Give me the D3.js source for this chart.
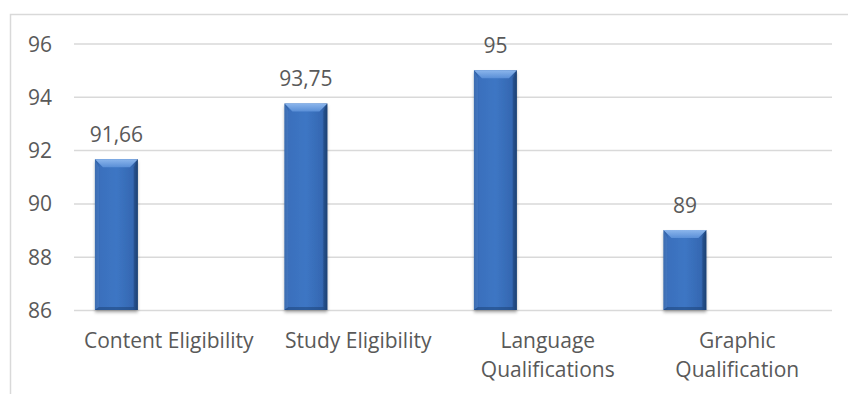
<!DOCTYPE html>
<html>
<head>
<meta charset="utf-8">
<script src="https://cdn.jsdelivr.net/npm/d3@7"></script>
<style>
  html, body { margin: 0; padding: 0; background: #fff; }
  svg { display: block; }
  text { font-family: "Open Sans", "Noto Sans", sans-serif; fill: #595959; }
</style>
</head>
<body>
<svg id="chart" width="848" height="394"></svg>
<script>
// Evaluation scores per criterion
const categories = ["Content Eligibility", "Study Eligibility", "Language Qualifications", "Graphic Qualification"];
const scores = [91.66, 93.75, 95, 89];
const scoreLabels = ["91,66", "93,75", "95", "89"];
const yTicks = [86, 88, 90, 92, 94, 96];

const W = 848, H = 394;
const plot = { left: 74, right: 832, top: 43.5, bottom: 310 };
const fontSize = 21;

const svg = d3.select("#chart");

// gradients for the bevelled bars
const defs = svg.append("defs");
const body = defs.append("linearGradient").attr("id", "barBody")
  .attr("x1", "0").attr("x2", "1").attr("y1", "0").attr("y2", "0");
body.append("stop").attr("offset", "0").attr("stop-color", "#2b5a9c");
body.append("stop").attr("offset", "0.12").attr("stop-color", "#3a70bd");
body.append("stop").attr("offset", "0.5").attr("stop-color", "#3d76c4");
body.append("stop").attr("offset", "0.88").attr("stop-color", "#3568b2");
body.append("stop").attr("offset", "1").attr("stop-color", "#1f4578");

const topFacet = defs.append("linearGradient").attr("id", "barTop")
  .attr("x1", "0").attr("x2", "0").attr("y1", "0").attr("y2", "1");
topFacet.append("stop").attr("offset", "0").attr("stop-color", "#8cb6ec");
topFacet.append("stop").attr("offset", "1").attr("stop-color", "#5a8fd7");

const shadow = defs.append("filter").attr("id", "barShadow")
  .attr("x", "-20%").attr("y", "-5%").attr("width", "140%").attr("height", "115%");
shadow.append("feDropShadow").attr("dx", 0).attr("dy", 2.5)
  .attr("stdDeviation", 1.6).attr("flood-color", "#000").attr("flood-opacity", 0.3);

// chart frame (top and left edges visible)
svg.append("rect")
  .attr("x", 10.5).attr("y", 14.5)
  .attr("width", W + 20).attr("height", H + 20)
  .attr("fill", "none").attr("stroke", "#d9d9d9").attr("stroke-width", 1.5);

const x = d3.scaleBand().domain(categories).range([plot.left, plot.right]).padding(0);
const y = d3.scaleLinear().domain([86, 96]).range([plot.bottom, plot.top]);

// gridlines
const yAxis = d3.axisLeft(y).tickValues(yTicks).tickSize(-(plot.right - plot.left)).tickPadding(22);
const gy = svg.append("g").attr("transform", `translate(${plot.left},0)`).call(yAxis);
gy.select(".domain").remove();
gy.selectAll(".tick line").attr("stroke", "#d9d9d9").attr("stroke-width", 1.5);
gy.selectAll(".tick text")
  .attr("font-size", fontSize)
  .attr("font-family", "\"Open Sans\", \"Noto Sans\", sans-serif")
  .attr("fill", "#595959")
  .attr("dy", "0.36em");

// bars sit in the first of two slots inside each category
const slot = d3.scaleBand().domain([0, 1]).range([0, x.bandwidth()]).paddingInner(0.59).paddingOuter(0.2);
const bw = slot.bandwidth();
const bevel = 8;

const bars = svg.append("g").selectAll("g.bar")
  .data(categories.map((c, i) => ({ c, v: scores[i], label: scoreLabels[i] })))
  .join("g").attr("class", "bar");

bars.each(function(d) {
  const g = d3.select(this);
  const x0 = x(d.c) + slot(0);
  const yt = y(d.v), yb = y(86);
  const h = yb - yt;
  g.append("rect")
    .attr("x", x0).attr("y", yt).attr("width", bw).attr("height", h)
    .attr("fill", "url(#barBody)").attr("filter", "url(#barShadow)");
  // top bevel facet
  g.append("path")
    .attr("d", `M${x0},${yt}L${x0 + bw},${yt}L${x0 + bw - bevel},${yt + bevel}L${x0 + bevel},${yt + bevel}Z`)
    .attr("fill", "url(#barTop)");
  // left side facet
  g.append("path")
    .attr("d", `M${x0},${yt}L${x0 + bevel * 0.5},${yt + bevel}L${x0 + bevel * 0.5},${yb - 3}L${x0},${yb}Z`)
    .attr("fill", "#5d8fd3").attr("opacity", 0.35);
  // right side facet
  g.append("path")
    .attr("d", `M${x0 + bw},${yt}L${x0 + bw - bevel * 0.5},${yt + bevel}L${x0 + bw - bevel * 0.5},${yb - 3}L${x0 + bw},${yb}Z`)
    .attr("fill", "#173a6a").attr("opacity", 0.35);
  // bottom facet
  g.append("path")
    .attr("d", `M${x0},${yb}L${x0 + bevel * 0.5},${yb - 3}L${x0 + bw - bevel * 0.5},${yb - 3}L${x0 + bw},${yb}Z`)
    .attr("fill", "#1a3f73").attr("opacity", 0.5);
  // value label
  g.append("text")
    .attr("x", x0 + bw / 2).attr("y", yt - 17)
    .attr("text-anchor", "middle").attr("font-size", fontSize)
    .text(d.label);
});

// category labels, wrapped to the band width
const lineHeight = 29;
const catG = svg.append("g");
categories.forEach(c => {
  const cx = x(c) + x.bandwidth() / 2;
  const t = catG.append("text")
    .attr("x", cx)
    .attr("y", 348)
    .attr("text-anchor", "middle")
    .attr("font-size", fontSize);
  const words = c.split(" ");
  let line = [];
  let tspan = t.append("tspan").attr("x", cx).attr("dy", 0);
  words.forEach(w => {
    line.push(w);
    tspan.text(line.join(" "));
    if (tspan.node().getComputedTextLength() > x.bandwidth() - 12 && line.length > 1) {
      line.pop();
      tspan.text(line.join(" "));
      line = [w];
      tspan = t.append("tspan").attr("x", cx).attr("dy", lineHeight).text(w);
    }
  });
});
</script>
</body>
</html>
